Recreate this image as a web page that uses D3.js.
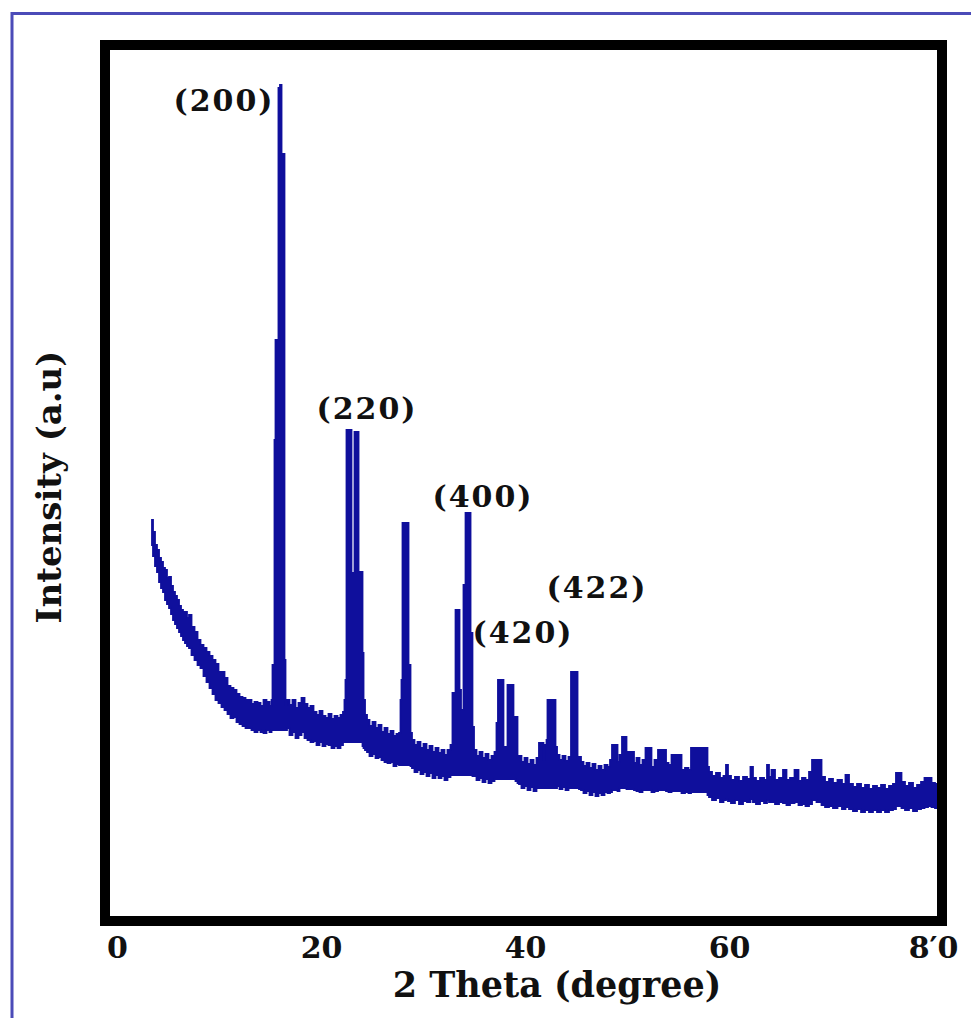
<!DOCTYPE html>
<html>
<head>
<meta charset="utf-8">
<script src="https://cdn.jsdelivr.net/npm/d3@7"></script>
<style>
  body { margin: 0; background: #fff; }
  text { font-family: "DejaVu Serif", serif; font-weight: bold; fill: #111; }
</style>
</head>
<body>
<div id="chart"></div>
<script>
const twoTheta = [
  3.43,3.63,3.82,4.02,4.22,4.41,4.61,4.80,5.00,5.20,5.39,5.59,5.78,5.98,6.18,6.37,6.57,6.76,6.96,7.16,
  7.45,7.75,8.04,8.33,8.63,8.92,9.22,9.51,9.80,10.10,10.39,10.69,10.98,11.27,11.57,11.86,12.16,12.45,12.75,13.04,
  13.33,13.63,13.92,14.22,14.51,14.80,15.10,
  15.20,15.29,15.39,15.49,15.59,15.78,15.88,16.08,16.18,16.37,16.47,16.57,
  16.76,17.06,17.35,17.65,17.94,18.24,18.53,18.82,19.12,19.41,19.71,20.00,20.29,20.59,20.88,21.18,21.47,21.76,22.06,22.25,
  22.35,22.45,22.55,22.94,23.04,23.24,23.33,23.63,23.73,24.02,24.12,24.22,24.41,
  24.61,24.90,25.20,25.49,25.78,26.08,26.37,26.67,26.96,27.25,27.55,27.75,
  27.84,27.94,28.04,28.53,28.63,28.73,28.82,
  29.02,29.31,29.61,29.90,30.20,30.49,30.78,31.08,31.37,31.67,31.96,32.25,32.55,32.84,
  32.94,33.14,33.24,33.53,33.63,33.82,34.12,34.22,34.61,34.71,34.80,34.90,
  35.10,35.39,35.69,35.98,36.27,36.57,36.86,37.16,
  37.25,37.45,37.84,37.94,38.24,38.33,38.82,38.92,39.22,39.31,
  39.51,39.80,40.10,40.39,40.69,40.98,41.27,41.47,41.76,41.86,42.06,42.16,42.25,42.94,43.04,43.24,43.53,43.82,44.12,44.41,
  44.61,45.10,45.20,45.39,
  45.59,45.88,46.18,46.47,46.76,47.06,47.35,47.65,47.94,48.24,48.43,48.63,49.02,49.12,49.41,49.61,49.90,50.00,50.59,50.78,
  51.08,51.37,51.67,51.96,52.25,52.55,52.84,53.24,53.73,53.92,54.22,54.51,55.20,55.49,55.88,56.18,56.37,57.84,57.94,
  58.14,58.53,58.92,59.31,59.61,59.80,60.00,60.39,60.78,61.18,61.57,61.96,62.25,62.45,62.84,63.24,63.63,63.82,64.02,64.31,
  64.71,65.10,65.49,65.78,66.18,66.67,66.96,67.35,67.65,68.04,68.24,68.92,69.22,69.61,70.00,70.39,70.88,71.27,71.57,71.96,
  72.35,72.75,73.14,73.53,73.92,74.31,74.71,75.10,75.49,75.88,76.27,76.47,76.76,77.06,77.45,77.84,78.24,78.63,79.02,79.31,
  79.71,80.00,80.39
];
const upperIntensity = [
  396,384,371,366,358,354,348,346,338,339,330,324,320,316,310,306,304,304,298,301,
  289,284,276,271,268,264,260,256,252,244,244,238,230,228,226,222,219,218,216,216,
  212,214,213,210,216,214,210,
  216,251,251,476,576,576,828,831,762,762,256,211,
  216,211,216,208,213,218,212,208,210,204,201,205,200,198,202,197,200,198,201,204,
  216,236,486,486,343,343,484,484,344,344,263,216,201,
  196,190,194,188,191,184,188,182,185,180,182,183,
  216,236,393,393,251,251,183,
  176,171,174,168,172,166,170,164,168,163,166,161,166,171,
  223,223,306,306,226,206,331,403,403,283,283,189,
  166,160,164,158,162,156,160,164,
  193,236,236,169,169,231,231,199,199,158,
  160,154,158,152,156,151,158,173,173,156,171,176,216,216,169,161,156,160,155,159,
  244,244,159,159,
  154,150,153,148,152,146,150,146,151,149,156,171,171,154,161,179,179,164,164,153,
  158,151,156,168,168,149,156,166,166,153,151,161,161,146,148,146,168,168,149,
  144,140,143,138,140,151,140,136,139,135,139,137,149,138,135,138,136,151,139,146,
  136,138,146,136,138,146,135,138,136,144,156,156,139,134,137,133,136,132,141,132,
  129,132,128,131,127,130,128,131,127,130,132,143,143,134,130,133,128,131,134,138,
  138,133,132
];
const lowerIntensity = [
  371,360,350,344,334,328,324,316,312,308,302,296,292,288,284,280,276,273,270,268,
  261,256,251,248,240,234,228,222,216,213,209,206,202,198,199,194,192,190,188,188,
  186,184,186,184,183,186,184,
  186,186,186,186,186,186,186,186,186,186,186,186,
  188,181,184,178,181,184,178,176,174,175,171,174,170,172,171,168,170,168,171,174,
  174,174,174,174,174,174,174,174,174,174,170,168,166,
  164,160,162,158,159,156,154,153,154,150,152,151,
  151,151,151,151,151,151,150,
  148,144,146,142,144,140,143,138,141,138,140,136,139,141,
  141,141,141,141,141,141,141,141,141,141,141,140,
  140,136,138,134,137,133,135,137,
  137,137,137,137,137,137,137,137,135,133,
  132,128,130,126,129,125,128,128,128,128,128,128,128,128,128,130,127,129,126,128,
  128,128,128,127,
  126,123,125,121,124,120,123,121,124,123,124,126,126,125,128,128,128,127,127,126,
  125,124,126,126,126,124,125,126,126,125,124,125,125,123,124,123,124,124,121,
  119,116,118,114,116,117,115,113,116,112,115,114,117,114,112,115,113,116,114,114,
  112,114,113,111,113,114,111,112,110,112,116,114,111,109,110,108,110,107,109,107,
  105,107,104,106,104,106,104,106,104,106,107,110,110,108,106,108,105,107,108,109,
  110,109,108
];

const xTicks = [0, 20, 40, 60, 80];
const xTickLabels = ["0", "20", "40", "60", "8\u20320"];

const peakLabels = ["(200)", "(220)", "(400)", "(420)", "(422)"];
const peakLabelTheta = [10.49, 24.51, 35.88, 39.80, 47.06];
const peakLabelIntensity = [805, 497, 409, 273, 318];

drawPattern("#chart");

function drawPattern(container) {
    const width = 971, height = 1018;
    const frame = { left: 105, right: 942, top: 45, bottom: 921 };

    const x = d3.scaleLinear().domain([0, 80]).range([117, 933]);
    const y = d3.scaleLinear().domain([0, 870]).range([916, 46]);

    const points = twoTheta.map((t, i) => ({ t, hi: upperIntensity[i], lo: lowerIntensity[i] }));

    const svg = d3.select(container)
        .append("svg")
        .attr("width", width)
        .attr("height", height);

    // thin blue page border (top and left only)
    svg.append("path")
        .attr("d", `M12,${height} L12,13.5 L${width},13.5`)
        .attr("fill", "none")
        .attr("stroke", "#4b4bb8")
        .attr("stroke-width", 3);

    svg.append("clipPath")
        .attr("id", "plot-clip")
        .append("rect")
        .attr("x", frame.left + 5)
        .attr("y", frame.top + 5)
        .attr("width", frame.right - frame.left - 10)
        .attr("height", frame.bottom - frame.top - 10);

    const band = d3.area()
        .x(d => x(d.t))
        .y0(d => y(d.lo))
        .y1(d => y(d.hi))
        .curve(d3.curveStep);

    svg.append("path")
        .datum(points)
        .attr("clip-path", "url(#plot-clip)")
        .attr("d", band)
        .attr("fill", "#0f0f9c")
        .attr("stroke", "#0f0f9c")
        .attr("stroke-width", 1.8)
        .attr("stroke-linejoin", "miter");

    // heavy black frame
    svg.append("rect")
        .attr("x", frame.left)
        .attr("y", frame.top)
        .attr("width", frame.right - frame.left)
        .attr("height", frame.bottom - frame.top)
        .attr("fill", "none")
        .attr("stroke", "#000")
        .attr("stroke-width", 10);

    const xAxis = svg.append("g")
        .attr("transform", `translate(0,${frame.bottom})`)
        .call(d3.axisBottom(x)
            .tickValues(xTicks)
            .tickFormat((d, i) => xTickLabels[i])
            .tickSize(0)
            .tickPadding(16));
    xAxis.select(".domain").remove();
    xAxis.selectAll("text")
        .attr("fill", "#111")
        .style("font-family", "'DejaVu Serif', serif")
        .style("font-weight", "bold")
        .style("font-size", "30px");

    svg.selectAll("text.peak")
        .data(peakLabels)
        .enter().append("text")
        .attr("class", "peak")
        .attr("x", (d, i) => x(peakLabelTheta[i]))
        .attr("y", (d, i) => y(peakLabelIntensity[i]))
        .attr("text-anchor", "middle")
        .style("font-size", "30px")
        .style("letter-spacing", "2px")
        .text(d => d);

    svg.append("text")
        .attr("x", 557)
        .attr("y", 997)
        .attr("text-anchor", "middle")
        .style("font-size", "35px")
        .text("2 Theta (degree)");

    svg.append("text")
        .attr("transform", "translate(61,487) rotate(-90)")
        .attr("text-anchor", "middle")
        .style("font-size", "34px")
        .text("Intensity (a.u)");
}
</script>
</body>
</html>
